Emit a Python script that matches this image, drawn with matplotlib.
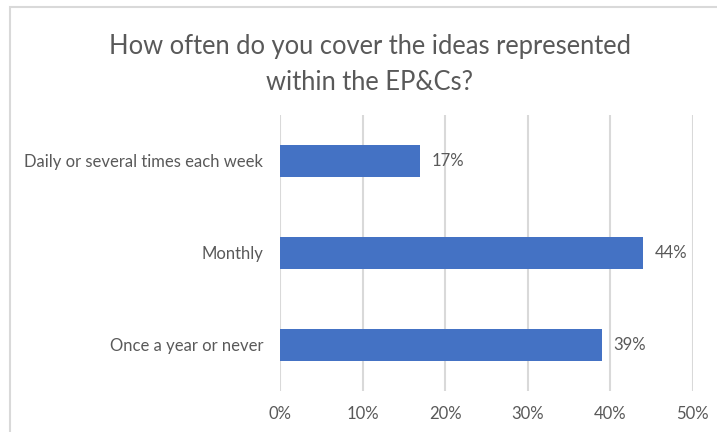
import matplotlib
import matplotlib.pyplot as plt
from matplotlib.patches import Rectangle
from matplotlib.ticker import FuncFormatter

matplotlib.use("Agg")

# data
categories = ["Once a year or never", "Monthly", "Daily or several times each week"]
shares = [39, 44, 17]
x_ticks = [0, 10, 20, 30, 40, 50]
title = "How often do you cover the ideas represented\nwithin the EP&Cs?"

BAR = "#4472C4"
TEXT = "#595959"
GRID = "#D9D9D9"

plt.rcParams["font.family"] = ["Lato", "DejaVu Sans"]

fig = plt.figure(figsize=(7.17, 4.32), dpi=100)

# chart border (runs off the right and bottom edge like the screenshot)
fig.patches.append(Rectangle((10 / 717, -0.1), 1.0, (432 - 7.5) / 432 + 0.1,
                             transform=fig.transFigure, fill=False,
                             edgecolor=GRID, linewidth=1.5))

ax = fig.add_axes([280 / 717, 41 / 432, 412.5 / 717, 276 / 432])
ypos = range(len(categories))
bars = ax.barh(ypos, shares, height=0.34, color=BAR, zorder=3)

ax.set_xlim(0, 50)
ax.set_ylim(-0.5, len(categories) - 0.5)
ax.set_xticks(x_ticks)
ax.xaxis.set_major_formatter(FuncFormatter(lambda v, _: f"{v:.0f}%"))
ax.set_yticks(list(ypos))
ax.set_yticklabels(categories)

ax.grid(axis="x", color=GRID, linewidth=1.5, zorder=0)
for s in ax.spines.values():
    s.set_visible(False)
ax.tick_params(axis="both", length=0, colors=TEXT, labelsize=12)
ax.tick_params(axis="y", pad=12)
ax.tick_params(axis="x", pad=11)

for b, v in zip(bars, shares):
    ax.text(b.get_width() + 1.4, b.get_y() + b.get_height() / 2, f"{v}%",
            va="center", ha="left", color=TEXT, fontsize=12)

# title is centred on the whole chart box, which is wider than the crop
fig.text(370 / 717, 1 - 64.5 / 432, title, ha="center", va="center", color=TEXT,
         fontsize=18.4, linespacing=1.55)

fig.savefig("out.png", dpi=100)
